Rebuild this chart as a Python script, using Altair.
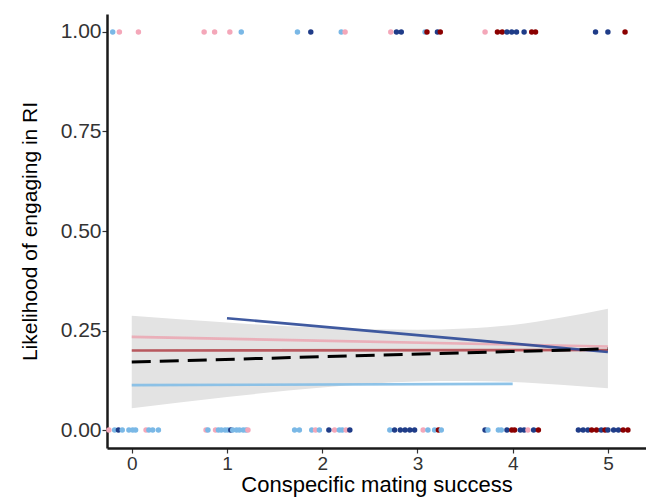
import altair as alt
import pandas as pd

# ---- data ----
groups = ["pink", "lightblue", "darkblue", "darkred"]
group_colors = ["#f4a7b9", "#7ab8e6", "#1f3c88", "#8b0000"]

# points at y = 1
x_top = [-0.20, -0.13, 0.07, 0.76, 0.87, 1.03, 1.15, 1.74, 1.88, 2.20, 2.24,
         2.72, 2.78, 2.83, 3.08, 3.10, 3.21, 3.24, 3.71, 3.84, 3.89, 3.94,
         3.99, 4.04, 4.12, 4.20, 4.24, 4.87, 5.00, 5.18]
g_top = ["lightblue", "pink", "pink", "pink", "pink", "pink", "lightblue",
         "lightblue", "darkblue", "lightblue", "pink",
         "pink", "darkblue", "darkblue", "lightblue", "darkred", "darkblue",
         "darkred", "pink", "darkred", "darkred", "darkblue",
         "darkblue", "darkblue", "darkblue", "darkred", "darkred",
         "darkblue", "darkblue", "darkred"]

# points at y = 0
x_bot = [-0.24, -0.18, -0.14, -0.10, -0.03, 0.01, 0.04, 0.15, 0.18, 0.22, 0.28,
         0.78, 0.80, 0.88, 0.91, 0.94, 0.98, 1.01, 1.04, 1.06, 1.10, 1.13,
         1.17, 1.20, 1.22, 1.71, 1.76, 1.89, 1.93, 1.97, 2.07, 2.13, 2.18,
         2.21, 2.25, 2.29,
         2.71, 2.76, 2.82, 2.87, 2.92, 2.97, 3.06, 3.11, 3.18, 3.22, 3.25,
         3.71, 3.74, 3.85, 3.88, 3.94, 3.99, 4.02, 4.08, 4.12, 4.16, 4.22,
         4.27, 4.69, 4.74, 4.79, 4.83, 4.88, 4.93, 4.97, 5.00, 5.06, 5.11,
         5.16, 5.21]
g_bot = ["pink", "lightblue", "darkblue", "lightblue", "lightblue", "lightblue",
         "lightblue", "pink", "lightblue", "lightblue", "lightblue",
         "pink", "lightblue", "pink", "lightblue", "lightblue", "lightblue",
         "lightblue", "darkblue", "lightblue", "lightblue", "lightblue",
         "lightblue", "lightblue", "pink", "lightblue", "lightblue", "lightblue",
         "pink", "lightblue", "darkblue", "pink", "lightblue",
         "lightblue", "pink", "darkblue",
         "lightblue", "darkblue", "darkblue", "darkblue", "darkblue", "darkblue",
         "pink", "lightblue", "lightblue", "darkred", "lightblue",
         "darkblue", "lightblue", "lightblue", "lightblue", "darkblue",
         "darkred", "darkred", "darkblue", "darkblue", "pink", "darkblue",
         "darkred", "darkblue", "darkblue", "darkblue", "darkred", "darkred",
         "darkblue", "darkred", "darkblue", "darkblue", "darkblue",
         "darkred", "darkred"]

# confidence band of the overall fit
band_x = [0, 1, 2, 3, 3.5, 4, 4.5, 5]
band_lo = [0.055, 0.083, 0.107, 0.122, 0.123, 0.121, 0.114, 0.105]
band_hi = [0.287, 0.270, 0.257, 0.252, 0.255, 0.264, 0.282, 0.305]

# overall fit (dashed)
fit_x = [0, 5]
fit_y = [0.171, 0.204]

# per-group fits
line_group = ["lightblue", "lightblue", "pink", "pink", "darkred", "darkred",
              "darkblue", "darkblue"]
line_x = [0, 4, 0, 5, 0, 5, 1, 5]
line_y = [0.113, 0.116, 0.234, 0.210, 0.200, 0.201, 0.281, 0.196]
line_colors = ["#82bde6", "#eaa9b4", "#b3484f", "#2b4896"]

# ---- tables ----
pts = pd.DataFrame({
    "x": x_top + x_bot,
    "y": [1.0] * len(x_top) + [0.0] * len(x_bot),
    "g": g_top + g_bot,
})
band = pd.DataFrame({"x": band_x, "lo": band_lo, "hi": band_hi})
fit = pd.DataFrame({"x": fit_x, "y": fit_y})
lines = pd.DataFrame({"x": line_x, "y": line_y, "g": line_group})

xs = alt.Scale(domain=[-0.26, 5.40], nice=False, zero=False)
ys = alt.Scale(domain=[-0.045, 1.045], nice=False, zero=False)

FONT = "Liberation Sans"
xaxis = alt.Axis(title="Conspecific mating success", values=[0, 1, 2, 3, 4, 5],
                 format="d", grid=False, domainColor="#1a1a1a", domainWidth=2.5,
                 tickColor="#333333", tickSize=5, tickWidth=1.2,
                 labelFontSize=19, labelColor="#333333", labelPadding=1,
                 titleFontSize=22, titleFontWeight="normal", titleColor="#000000",
                 titlePadding=1, labelFont=FONT, titleFont=FONT)
yaxis = alt.Axis(title="Likelihood of engaging in RI", values=[0, 0.25, 0.5, 0.75, 1.0],
                 format=".2f", grid=False, domainColor="#1a1a1a", domainWidth=2.5,
                 tickColor="#333333", tickSize=5, tickWidth=1.2,
                 labelFontSize=21, labelColor="#333333", labelPadding=1,
                 titleFontSize=21, titleFontWeight="normal", titleColor="#000000",
                 titlePadding=20, labelFont=FONT, titleFont=FONT)

band_layer = alt.Chart(band).mark_area(color="#e3e3e3", opacity=1, interpolate="monotone").encode(
    x=alt.X("x:Q", scale=xs, axis=xaxis),
    y=alt.Y("lo:Q", scale=ys, axis=yaxis),
    y2="hi:Q",
)

line_layer = alt.Chart(lines).mark_line(strokeWidth=2.6, opacity=0.9).encode(
    x=alt.X("x:Q", scale=xs),
    y=alt.Y("y:Q", scale=ys),
    color=alt.Color("g:N", scale=alt.Scale(domain=["lightblue", "pink", "darkred", "darkblue"],
                                           range=line_colors), legend=None),
    detail="g:N",
)

fit_layer = alt.Chart(fit).mark_line(color="#000000", strokeWidth=3,
                                     strokeDash=[19, 9]).encode(
    x=alt.X("x:Q", scale=xs),
    y=alt.Y("y:Q", scale=ys),
)

pt_layer = alt.Chart(pts).mark_circle(size=30, opacity=1).encode(
    x=alt.X("x:Q", scale=xs),
    y=alt.Y("y:Q", scale=ys),
    color=alt.Color("g:N", scale=alt.Scale(domain=groups, range=group_colors), legend=None),
)

chart = alt.layer(band_layer, line_layer, fit_layer, pt_layer).resolve_scale(
    color="independent"
).properties(
    width=539, height=434,
    padding={"left": 107, "top": 14, "right": 0, "bottom": 52},
    autosize=alt.AutoSizeParams(type="none"),
    background="#ffffff",
).configure_view(stroke=None)

chart.save("out.html", embed_options={"renderer": "svg", "actions": False})
